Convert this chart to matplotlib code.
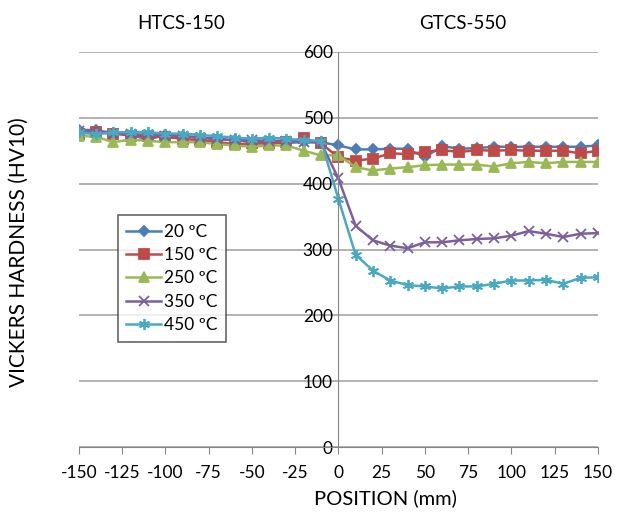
import matplotlib
matplotlib.use('Agg')
import matplotlib.pyplot as plt

# positions along the weld (mm), one reading every 10 mm
position = list(range(-150, 151, 10))

hv_20 = [482, 481, 477, 474, 467, 474, 472, 470, 467, 466, 464, 462, 462, 463, 463, 458,
         452, 452, 453, 453, 440, 457, 453, 454, 456, 456, 456, 456, 456, 456, 458]
hv_150 = [476, 478, 476, 473, 472, 471, 468, 466, 463, 460, 461, 461, 463, 469, 461, 440,
          435, 438, 446, 445, 448, 451, 448, 451, 450, 451, 450, 450, 450, 446, 450]
hv_250 = [473, 471, 463, 467, 465, 463, 463, 463, 460, 458, 456, 458, 458, 450, 443, 443,
          425, 420, 423, 425, 428, 429, 429, 429, 426, 431, 433, 431, 433, 433, 433]
hv_350 = [480, 479, 476, 475, 474, 473, 472, 470, 468, 466, 466, 465, 465, 464, 462, 408,
          336, 314, 306, 302, 311, 311, 314, 316, 317, 321, 328, 324, 319, 324, 325]
hv_450 = [478, 475, 478, 478, 478, 476, 476, 474, 472, 470, 468, 470, 468, 466, 465, 377,
          292, 268, 253, 246, 244, 241, 244, 244, 248, 253, 253, 254, 248, 257, 258]

labels = ['20 ºC', '150 ºC', '250 ºC', '350 ºC', '450 ºC']
colors = ['#4A7EBB', '#BE4B48', '#98B954', '#7D5FA0', '#46AAC5']
markers = ['D', 's', '^', 'x', (6, 2, 0)]
msizes = [5, 7, 7, 7, 8]

plt.rcParams['font.family'] = ['Lato', 'DejaVu Sans']
plt.rcParams['axes.unicode_minus'] = False

fig = plt.figure(figsize=(6.26, 5.14), dpi=100)
ax = fig.add_axes([0.126, 0.130, 0.829, 0.769])

series = [hv_20, hv_150, hv_250, hv_350, hv_450]
for vals, lab, c, m, ms in zip(series, labels, colors, markers, msizes):
    ax.plot(position, vals, color=c, marker=m, markersize=ms, linewidth=1.8,
            markeredgewidth=1.3, label=lab)

ax.set_xlim(-150, 150)
ax.set_ylim(0, 600)
ax.set_xticks(range(-150, 151, 25))
ax.set_yticks(range(0, 601, 100))
ax.yaxis.grid(True, color='#A6A6A6', linewidth=1.2)
ax.set_axisbelow(True)

for s in ['top', 'right']:
    ax.spines[s].set_visible(False)
ax.spines['left'].set_position(('data', 0))
ax.spines['left'].set_color('#868686')
ax.spines['bottom'].set_color('#868686')
ax.tick_params(axis='x', direction='out', length=5, color='#868686', labelsize=12.5, pad=8)
ax.tick_params(axis='y', length=0, labelsize=12.5, pad=4)

leg = ax.legend(loc='upper left', bbox_to_anchor=(0.075, 0.587), fontsize=12.5,
                frameon=True, fancybox=False, edgecolor='#404040',
                handlelength=2.0, handletextpad=0.15, borderpad=0.5, labelspacing=0.42,
                borderaxespad=0)
leg.get_frame().set_linewidth(1.2)

fig.text(0.29, 0.955, 'HTCS-150', ha='center', va='center', fontsize=13.5)
fig.text(0.74, 0.955, 'GTCS-550', ha='center', va='center', fontsize=13.5)
fig.text(0.03, 0.51, 'VICKERS HARDNESS (HV10)', rotation=90, ha='center', va='center', fontsize=15)
fig.text(0.615, 0.03, 'POSITION (mm)', ha='center', va='center', fontsize=14.5)

fig.savefig('out.png', dpi=100)
